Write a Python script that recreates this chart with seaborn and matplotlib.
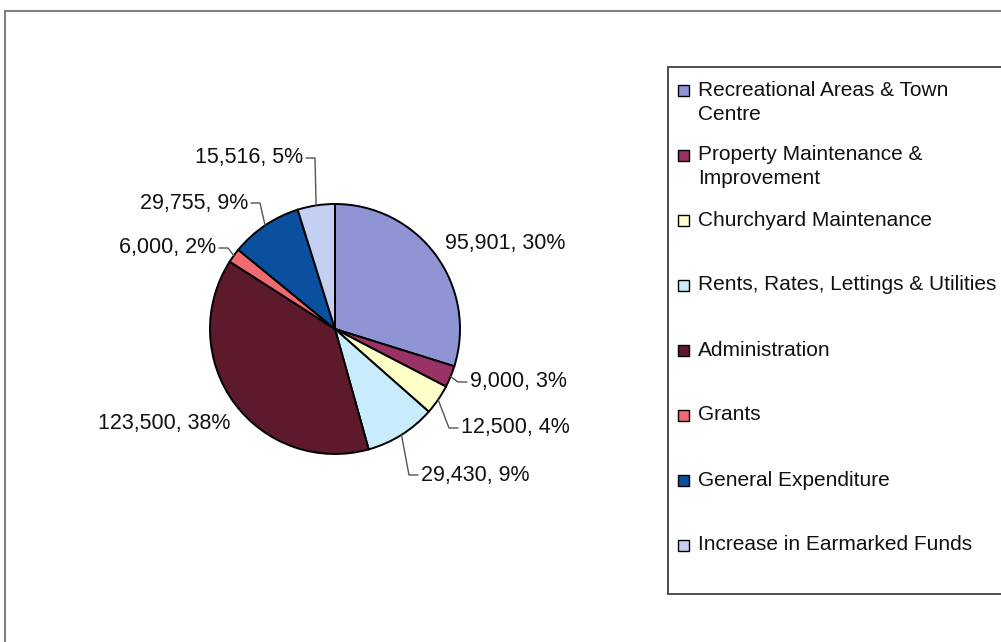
import numpy as np
import matplotlib
matplotlib.use("Agg")
import matplotlib.pyplot as plt
import seaborn as sns
from matplotlib.patches import Rectangle

# Data
categories = [
    "Recreational Areas & Town\nCentre",
    "Property Maintenance &\nImprovement",
    "Churchyard Maintenance",
    "Rents, Rates, Lettings & Utilities",
    "Administration",
    "Grants",
    "General Expenditure",
    "Increase in Earmarked Funds",
]
amounts = [95901, 9000, 12500, 29430, 123500, 6000, 29755, 15516]
colors = ["#8f94d4", "#993366", "#ffffc8", "#c8ecfc",
          "#5c1a2c", "#f06a72", "#0b4f9f", "#c3d0f2"]

# Layout (pixels; pie centre and label anchors relative to centre)
W, H = 1001, 642
cx, cy, R = 335, H - 329, 125
# (dx, dy, ha, leader)
label_layout = [
    (110, 85, "left", False),
    (135, -53, "left", True),
    (126, -99, "left", True),
    (86, -146, "left", True),
    (-105, -94, "right", False),
    (-119, 81, "right", True),
    (-87, 126, "right", True),
    (-32, 171, "right", True),
]

sns.set_style("white")
plt.rcParams["font.family"] = ["Liberation Sans", "DejaVu Sans"]
palette = sns.color_palette(colors)

fig = plt.figure(figsize=(W / 100, H / 100), dpi=100)
ax = fig.add_axes([0, 0, 1, 1])

wedges, _ = ax.pie(amounts, colors=palette, startangle=90, counterclock=False,
                   center=(cx, cy), radius=R,
                   wedgeprops=dict(edgecolor="black", linewidth=1.4))
ax.set_xlim(0, W)
ax.set_ylim(0, H)
ax.set_aspect("equal")
ax.axis("off")

total = sum(amounts)
txt_col = "#111111"
fs = 15.5
for w, val, (dx, dy, ha, leader) in zip(wedges, amounts, label_layout):
    pct = round(100 * val / total)
    tx, ty = cx + dx, cy + dy
    ax.text(tx, ty, f"{val:,}, {pct}%", ha=ha, va="center",
            fontsize=fs, color=txt_col)
    if leader:
        mid = np.deg2rad((w.theta1 + w.theta2) / 2)
        ex, ey = cx + R * np.cos(mid), cy + R * np.sin(mid)
        sign = -1 if ha == "left" else 1
        start = tx + sign * 3
        elbow = tx + sign * 12
        ax.plot([start, elbow, ex], [ty, ty, ey], color="#555555", lw=1.0)

# Legend (drawn manually so entries are evenly spaced)
ax.add_patch(Rectangle((668, H - 594), 360, 527, facecolor="white",
                       edgecolor="#404040", lw=1.3))
y0, step = 90, 65
for i, (lab, col) in enumerate(zip(categories, palette)):
    yc = H - (y0 + i * step)
    ax.add_patch(Rectangle((683 - 5.5, yc - 5.5), 11, 11, facecolor=col,
                           edgecolor="black", lw=1.0))
    for k, line in enumerate(lab.split("\n")):
        ax.text(698, yc - k * 24, line, ha="left", va="center",
                fontsize=15, color=txt_col)

# Outer chart frame
ax.add_patch(Rectangle((5, -20), 1100, H - 11 + 20, facecolor="none",
                       edgecolor="#7f7f7f", lw=1.5))

fig.savefig("out.png", dpi=100)
